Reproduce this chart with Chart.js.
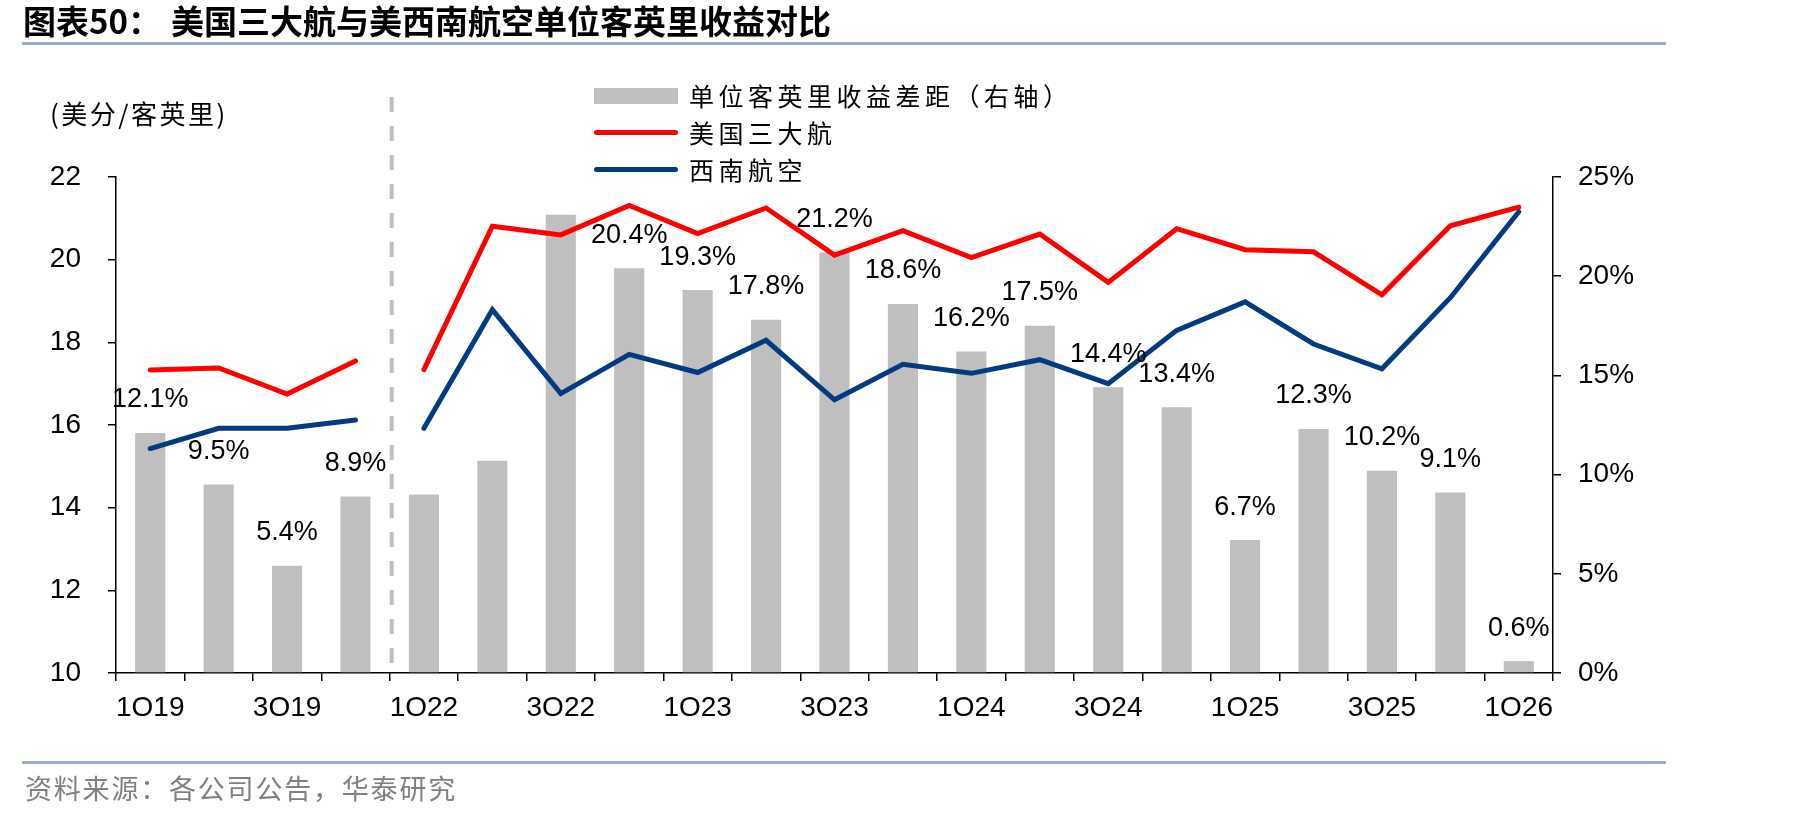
<!DOCTYPE html>
<html>
<head>
<meta charset="utf-8">
<script src="https://cdn.jsdelivr.net/npm/chart.js@4.4.1/dist/chart.umd.min.js"></script>
<style>
  body { margin: 0; background: #fff; width: 1819px; height: 816px; position: relative; overflow: hidden;
         font-family: 'Noto Sans CJK SC', sans-serif; }
  #myChart { position: absolute; left: 0; top: 0; }
  .abs { position: absolute; white-space: nowrap; }
  .title { top: 4px; font-size: 33px; line-height: 33px; font-weight: bold; color: #000; }
  .rule { left: 22px; width: 1644px; height: 3px; background: #9bb0c8; }
  .unit { left: 50px; top: 99px; font-size: 26px; line-height: 28px; letter-spacing: 2.5px; color: #000; }
  .legend-text { left: 689px; font-size: 25px; line-height: 25px; letter-spacing: 4.5px; color: #000; }
  .source { left: 25px; top: 774px; font-size: 27px; line-height: 27px; letter-spacing: 1.8px; color: #808080; }
</style>
</head>
<body>
<canvas id="myChart" width="1819" height="816"></canvas>

<div class="abs title" style="left:23px">图表50：</div>
<div class="abs title" style="left:171px">美国三大航与美西南航空单位客英里收益对比</div>
<div class="abs rule" style="top:42px"></div>
<div class="abs unit">(美分/客英里)</div>

<div class="abs" style="left:594px;top:88px;width:84px;height:16px;background:#bfbfbf"></div>
<div class="abs legend-text" style="top:83px">单位客英里收益差距（右轴）</div>
<div class="abs" style="left:594px;top:130px;width:84px;height:5px;border-radius:3px;background:#ff0000"></div>
<div class="abs legend-text" style="top:120px">美国三大航</div>
<div class="abs" style="left:594px;top:167px;width:84px;height:5px;border-radius:3px;background:#043a7f"></div>
<div class="abs legend-text" style="top:157px">西南航空</div>

<div class="abs rule" style="top:761px"></div>
<div class="abs source">资料来源：各公司公告，华泰研究</div>

<script>
// quarters, 2020-21 skipped (dashed separator after 4Q19)
const quarters = ['1Q19', '2Q19', '3Q19', '4Q19', '1Q22', '2Q22', '3Q22', '4Q22', '1Q23', '2Q23', '3Q23',
                  '4Q23', '1Q24', '2Q24', '3Q24', '4Q24', '1Q25', '2Q25', '3Q25', '4Q25', '1Q26'];
// 美国三大航, 美分/客英里
const bigThree = [17.33, 17.38, 16.75, 17.55, 17.34, 20.81, 20.60, 21.31, 20.63, 21.25, 20.11,
                  20.70, 20.05, 20.62, 19.45, 20.75, 20.24, 20.19, 19.15, 20.82, 21.27];
// 西南航空, 美分/客英里
const southwest = [15.43, 15.92, 15.92, 16.12, 15.92, 18.79, 16.76, 17.71, 17.27, 18.05, 16.61,
                   17.47, 17.25, 17.58, 17.00, 18.29, 18.98, 17.96, 17.36, 19.08, 21.16];
// 单位客英里收益差距, %
const gapPct = [12.1, 9.5, 5.4, 8.9, 9.0, 10.7, 23.1, 20.4, 19.3, 17.8, 21.2,
                18.6, 16.2, 17.5, 14.4, 13.4, 6.7, 12.3, 10.2, 9.1, 0.6];
// bars shown without a value label
const unlabeled = ['1Q22', '2Q22', '3Q22'];
const lastBeforeBreak = '4Q19';

const leftTicks = { min: 10, max: 22, step: 2 };
const rightTicks = { min: 0, max: 25, step: 5 };

Chart.defaults.font.family = '"Liberation Sans", Arial, sans-serif';
Chart.defaults.color = '#000';

const breakIdx = quarters.indexOf(lastBeforeBreak);

const separator = {
    id: 'separator',
    beforeDatasetsDraw(chart) {
        const x = chart.scales.x;
        const area = chart.chartArea;
        const px = (x.getPixelForValue(breakIdx) + x.getPixelForValue(breakIdx + 1)) / 2 + 2;
        const ctx = chart.ctx;
        ctx.save();
        ctx.strokeStyle = '#bfbfbf';
        ctx.lineWidth = 4;
        ctx.setLineDash([15, 14]);
        ctx.beginPath();
        ctx.moveTo(px, area.top - 80);
        ctx.lineTo(px, area.bottom - 6);
        ctx.stroke();
        ctx.restore();
    }
};

const barLabels = {
    id: 'barLabels',
    afterDatasetsDraw(chart) {
        const meta = chart.getDatasetMeta(0);
        const ctx = chart.ctx;
        ctx.save();
        ctx.font = '27px "Liberation Sans", Arial, sans-serif';
        ctx.fillStyle = '#000';
        ctx.textAlign = 'center';
        ctx.textBaseline = 'middle';
        meta.data.forEach((bar, i) => {
            if (unlabeled.includes(quarters[i])) return;
            ctx.fillText(gapPct[i].toFixed(1) + '%', bar.x, bar.y - 33);
        });
        ctx.restore();
    }
};

const gapSegment = {
    borderColor: c => c.p0DataIndex === breakIdx ? 'rgba(0,0,0,0)' : undefined
};

const axisGrid = { drawOnChartArea: false, drawTicks: true, tickLength: 8, color: '#000', lineWidth: 1.5 };
const axisBorder = { color: '#000', width: 1.5 };

const chart = new Chart(document.getElementById('myChart').getContext('2d'), {
    type: 'bar',
    data: {
        labels: quarters,
        datasets: [{
            label: '单位客英里收益差距（右轴）',
            data: gapPct,
            yAxisID: 'y1',
            backgroundColor: '#bfbfbf',
            categoryPercentage: 1,
            barPercentage: 0.44,
            order: 3
        }, {
            type: 'line',
            label: '美国三大航',
            data: bigThree,
            yAxisID: 'y',
            borderColor: '#ff0000',
            borderWidth: 5,
            borderCapStyle: 'round',
            pointRadius: 0,
            tension: 0,
            segment: gapSegment,
            order: 2
        }, {
            type: 'line',
            label: '西南航空',
            data: southwest,
            yAxisID: 'y',
            borderColor: '#043a7f',
            borderWidth: 5,
            borderCapStyle: 'round',
            pointRadius: 0,
            tension: 0,
            segment: gapSegment,
            order: 1
        }]
    },
    options: {
        responsive: false,
        animation: false,
        devicePixelRatio: 1,
        layout: { padding: { top: 177, bottom: 100, left: 0, right: 0 } },
        plugins: { legend: { display: false }, tooltip: { enabled: false } },
        scales: {
            x: {
                offset: true,
                grid: Object.assign({ offset: true }, axisGrid),
                border: axisBorder,
                ticks: {
                    autoSkip: false, maxRotation: 0, padding: 10, font: { size: 28 },
                    callback: (v, i) => i % 2 === 0 ? quarters[i] : ''
                },
                afterFit: s => { s.height = 43; }
            },
            y: {
                position: 'left',
                min: leftTicks.min, max: leftTicks.max,
                grid: axisGrid,
                border: axisBorder,
                ticks: { stepSize: leftTicks.step, padding: 27, font: { size: 28 } },
                afterFit: s => { s.width = 116; }
            },
            y1: {
                position: 'right',
                min: rightTicks.min, max: rightTicks.max,
                grid: axisGrid,
                border: axisBorder,
                ticks: { stepSize: rightTicks.step, padding: 17, font: { size: 28 }, callback: v => v + '%' },
                afterFit: s => { s.width = 266; }
            }
        }
    },
    plugins: [separator, barLabels]
});
</script>
</body>
</html>
